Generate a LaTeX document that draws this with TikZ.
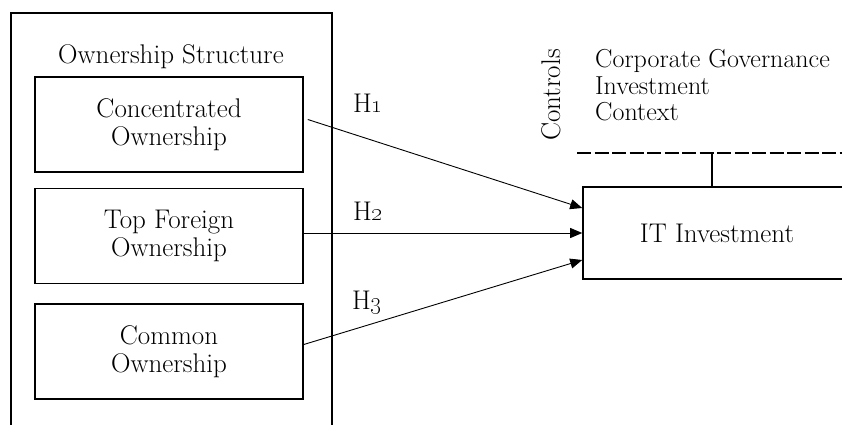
\documentclass[tikz,border=0pt]{standalone}
\usepackage{tikz}
\usetikzlibrary{arrows.meta,positioning,calc}

\begin{document}
\begin{tikzpicture}[x=1pt, y=-1pt,
      every node/.style={font=\fontsize{27}{28}\selectfont, inner sep=0pt},
      grp/.style={draw, line width=1.6pt, minimum width=321pt, minimum height=422pt},
      own/.style={draw, line width=1.6pt, align=center,
                 minimum width=268pt, minimum height=95pt},
      outc/.style={draw, line width=1.6pt, minimum width=268pt, minimum height=92pt},
      hyp/.style={anchor=base west},
      arr/.style={-{Triangle[length=12pt, width=10pt]}, line width=0.9pt}]
    \useasboundingbox (0,0) rectangle (842,425);
    \node[grp] (grp) at (171.5,224) {};
    \node[anchor=base] (grplab) at (171,64) {Ownership Structure};
    \node[own] (c1) at (169,124.5) {Concentrated\\Ownership};
    \node[own] (c2) at (169,236)   {Top Foreign\\Ownership};
    \node[own] (c3) at (169,351.5) {Common\\Ownership};
    \node[outc] (it) at (717,233)  {IT Investment};
    \node[rotate=90] (ctrl) at (551,95) {Controls};
    \node[anchor=base west, align=left, font=\fontsize{26}{26.5}\selectfont] (ctrllist) at (595,121)
      {Corporate Governance\\Investment\\Context};
    \coordinate (dashL) at (577,153);
    \coordinate (dashR) at (850,153);
    \coordinate (tap)   at (712,153);
    \draw[line width=1.4pt, dash pattern=on 14pt off 3.5pt] (dashL) -- (dashR);
    \draw[line width=1.4pt] (tap) -- (tap |- it.north);
    \draw[arr] ([xshift=4pt, yshift=5pt]c1.east) -- ([yshift=25pt]it.west);
    \draw[arr] (c2.east |- it.west) -- (it.west);
    \draw[arr] ([yshift=7pt]c3.east) -- ([yshift=-27pt]it.west);
    \node[hyp] (h1) at (353,113) {H\oldstylenums{1}};
    \node[hyp] (h2) at (353,220) {H\oldstylenums{2}};
    \node[hyp] (h3) at (352,309) {H\oldstylenums{3}};
  \end{tikzpicture}
\end{document}
